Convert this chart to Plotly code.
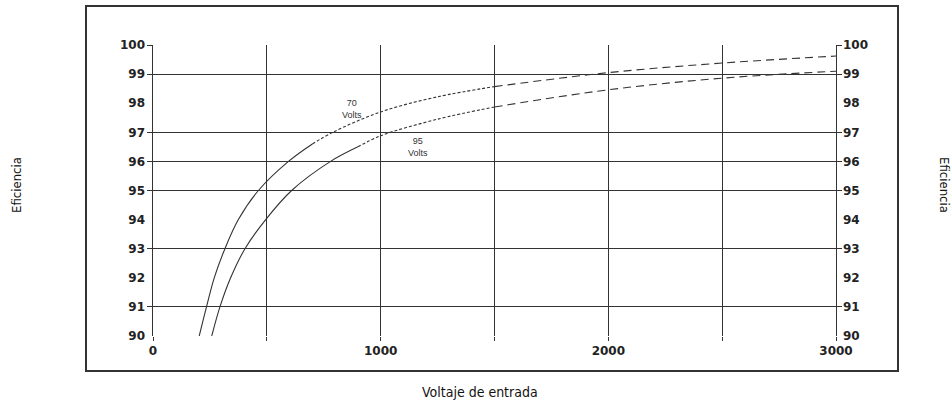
import plotly.graph_objects as go

W, H = 952, 409

# ---- data ----
V70_X = [203, 235, 269, 316, 375, 463, 595, 700, 790, 1000, 1250, 1500, 2000, 2500, 3000]
V70_Y = [90, 91, 92, 93, 94, 95, 96, 96.6, 97, 97.7, 98.22, 98.57, 99.05, 99.38, 99.62]

V95_X = [258, 294, 341, 404, 495, 609, 780, 900, 1000, 1250, 1500, 2000, 2500, 3000]
V95_Y = [90, 91, 92, 93, 94, 95, 96, 96.5, 96.88, 97.45, 97.87, 98.46, 98.86, 99.1]

X_TICKS = [0, 500, 1000, 1500, 2000, 2500, 3000]
X_TICK_TEXT = ["0", "", "1000", "", "2000", "", "3000"]
Y_LABELS = [90, 91, 92, 93, 94, 95, 96, 97, 98, 99, 100]
Y_GRID = [91, 93, 95, 96, 97, 99, 100]

# where each curve's stroke style changes (solid -> fine dash -> dash)
STYLE_BREAKS = {"70 Volts": [700, 1500], "95 Volts": [900, 1500]}
DASHES = ["solid", "3px,2px", "8px,5px"]

INK = "#333333"
fig = go.Figure()

for xs, ys, name in [(V70_X, V70_Y, "70 Volts"), (V95_X, V95_Y, "95 Volts")]:
    cut = [0] + [xs.index(b) for b in STYLE_BREAKS[name]] + [len(xs) - 1]
    for k, dash in enumerate(DASHES):
        a, b = cut[k], cut[k + 1]
        fig.add_trace(go.Scatter(
            x=xs[a:b + 1], y=ys[a:b + 1], mode="lines", name=name, showlegend=False,
            line=dict(color=INK, width=1.1, dash=dash, shape="spline", smoothing=1.0),
            hoverinfo="skip",
        ))

tickfont = dict(family="DejaVu Sans, Arial, sans-serif", size=12, color="#222222", weight="bold")

x0p, x1p = 153 / W, 836 / W
y0p, y1p = (H - 336) / H, (H - 45) / H

fig.update_layout(
    width=W, height=H,
    margin=dict(l=0, r=0, t=0, b=0, autoexpand=False),
    paper_bgcolor="white", plot_bgcolor="white",
    showlegend=False,
    xaxis=dict(
        domain=[x0p, x1p], range=[0, 3000], tickmode="array",
        tickvals=X_TICKS, ticktext=X_TICK_TEXT, automargin=False,
        showgrid=True, gridcolor=INK, gridwidth=1,
        ticks="outside", ticklen=4, tickcolor=INK, tickwidth=1,
        showline=False, zeroline=False, tickfont=tickfont,
    ),
    yaxis=dict(
        domain=[y0p, y1p], range=[90, 100], tickmode="array", tickvals=Y_GRID,
        showticklabels=False, showgrid=True, gridcolor=INK, gridwidth=1,
        ticks="outside", ticklen=5, tickcolor=INK, tickwidth=1, automargin=False,
        showline=True, linecolor=INK, linewidth=1.2, mirror="ticks", zeroline=False,
    ),
    yaxis2=dict(
        overlaying="y", side="left", anchor="x", range=[90, 100], automargin=False,
        tickmode="array", tickvals=Y_LABELS, showgrid=False, zeroline=False,
        showline=False, ticks="", ticklabelstandoff=7, tickfont=tickfont,
    ),
    yaxis3=dict(
        overlaying="y", side="right", anchor="x", range=[90, 100], automargin=False,
        tickmode="array", tickvals=Y_LABELS, showgrid=False, zeroline=False,
        showline=False, ticks="", ticklabelstandoff=6, tickfont=tickfont,
    ),
)

# dummy invisible traces so the label axes render
fig.add_trace(go.Scatter(x=[None], y=[None], yaxis="y2", showlegend=False, hoverinfo="skip"))
fig.add_trace(go.Scatter(x=[None], y=[None], yaxis="y3", showlegend=False, hoverinfo="skip"))

lblfont = dict(family="Liberation Sans, Arial, sans-serif", size=9, color=INK)
fig.add_annotation(x=874, y=97.8, xref="x", yref="y", text="70<br>Volts",
                   showarrow=False, font=lblfont)
fig.add_annotation(x=1164, y=96.5, xref="x", yref="y", text="95<br>Volts",
                   showarrow=False, font=lblfont)

titlefont = dict(family="DejaVu Sans Condensed, Liberation Sans Narrow, Liberation Sans, sans-serif",
                 size=14, color="#111111")
fig.add_annotation(x=480 / W, y=1 - 392 / H, xref="paper", yref="paper",
                   xanchor="center", yanchor="middle",
                   text="Voltaje de entrada", showarrow=False, font=titlefont)
fig.add_annotation(x=17 / W, y=1 - 185 / H, xref="paper", yref="paper",
                   xanchor="center", yanchor="middle",
                   text="Eficiencia", textangle=-90, showarrow=False,
                   font=dict(titlefont, size=13))
fig.add_annotation(x=944 / W, y=1 - 185 / H, xref="paper", yref="paper",
                   xanchor="center", yanchor="middle",
                   text="Eficiencia", textangle=90, showarrow=False,
                   font=dict(titlefont, size=13))

# outer scanned-figure frame
fig.add_shape(type="rect", xref="paper", yref="paper",
              x0=86 / W, x1=898 / W, y0=1 - 371 / H, y1=1 - 6 / H,
              line=dict(color="#333333", width=2), layer="below")

fig.write_html("out.html", config={"displayModeBar": False},
               post_script="document.body.style.margin='0px';")
